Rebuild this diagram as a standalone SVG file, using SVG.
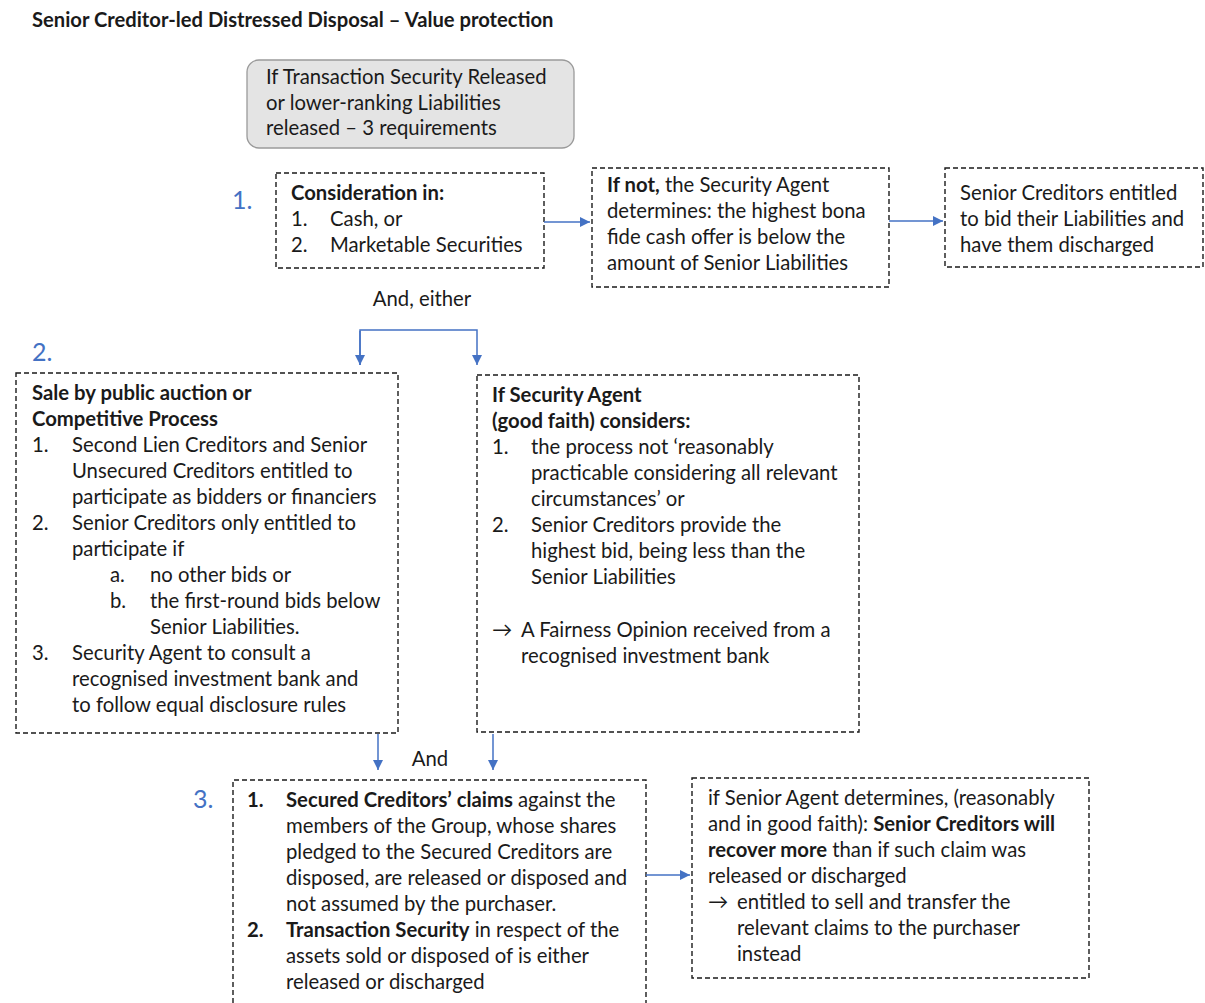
<svg xmlns="http://www.w3.org/2000/svg" width="1205" height="1003" viewBox="0 0 1205 1003">
  <defs>
    <marker id="arr" viewBox="0 0 10 10" refX="10" refY="5" markerWidth="10" markerHeight="10" markerUnits="userSpaceOnUse" orient="auto">
      <path d="M0,0 L10,5 L0,10 z" fill="#4472C4"/>
    </marker>
    <style>
      text { font-family: Lato, "Liberation Sans", sans-serif; font-size: 20.3px; fill: #1a1a1a; }
      .title { font-weight: bold; font-size: 20.2px; }
      .b { font-weight: bold; }
      .num { fill: #4472C4; font-size: 25px; }
      .box { fill: #ffffff; stroke: #1a1a1a; stroke-width: 1.4; stroke-dasharray: 5 3; }
      .gray { fill: #e4e4e4; stroke: #9a9a9a; stroke-width: 1.3; }
      .conn { fill: none; stroke: #4472C4; stroke-width: 1.5; }
    </style>
  </defs>

  <rect width="1205" height="1003" fill="#ffffff"/>

  <text class="title" x="32" y="27">Senior Creditor-led Distressed Disposal – Value protection</text>

  <!-- heading box -->
  <g id="requirements">
    <rect class="gray" x="247" y="60" width="327" height="88" rx="12"/>
    <text x="266" y="84">If Transaction Security Released</text>
    <text x="266" y="110">or lower-ranking Liabilities</text>
    <text x="266" y="135">released – 3 requirements</text>
  </g>

  <!-- step numbers -->
  <text class="num" x="232" y="209">1.</text>
  <text class="num" x="32" y="361">2.</text>
  <text class="num" x="193" y="808">3.</text>

  <!-- requirement 1 -->
  <g id="consideration">
    <rect class="box" x="276" y="173" width="268" height="95"/>
    <text class="b" x="291" y="200">Consideration in:</text>
    <text x="291" y="226">1.</text><text x="330" y="226">Cash, or</text>
    <text x="291" y="252">2.</text><text x="330" y="252">Marketable Securities</text>
  </g>

  <g id="if-not">
    <rect class="box" x="592" y="168" width="297" height="119"/>
    <text x="607" y="192"><tspan class="b">If not,</tspan> the Security Agent</text>
    <text x="607" y="218">determines: the highest bona</text>
    <text x="607" y="244">fide cash offer is below the</text>
    <text x="607" y="270">amount of Senior Liabilities</text>
  </g>

  <g id="bid-liabilities">
    <rect class="box" x="945" y="168" width="258" height="99"/>
    <text x="960" y="200">Senior Creditors entitled</text>
    <text x="960" y="226">to bid their Liabilities and</text>
    <text x="960" y="252">have them discharged</text>
  </g>

  <text x="422" y="306" text-anchor="middle">And, either</text>

  <!-- requirement 2 -->
  <g id="public-auction">
    <rect class="box" x="16" y="373" width="382" height="360"/>
    <text class="b" x="32" y="400">Sale by public auction or</text>
    <text class="b" x="32" y="426">Competitive Process</text>
    <text x="32" y="452">1.</text><text x="72" y="452">Second Lien Creditors and Senior</text>
    <text x="72" y="478">Unsecured Creditors entitled to</text>
    <text x="72" y="504">participate as bidders or financiers</text>
    <text x="32" y="530">2.</text><text x="72" y="530">Senior Creditors only entitled to</text>
    <text x="72" y="556">participate if</text>
    <text x="110" y="582">a.</text><text x="150" y="582">no other bids or</text>
    <text x="110" y="608">b.</text><text x="150" y="608">the first-round bids below</text>
    <text x="150" y="634">Senior Liabilities.</text>
    <text x="32" y="660">3.</text><text x="72" y="660">Security Agent to consult a</text>
    <text x="72" y="686">recognised investment bank and</text>
    <text x="72" y="712">to follow equal disclosure rules</text>
  </g>

  <g id="fairness-opinion">
    <rect class="box" x="477" y="375" width="382" height="357"/>
    <text class="b" x="492" y="402">If Security Agent</text>
    <text class="b" x="492" y="428">(good faith) considers:</text>
    <text x="492" y="454">1.</text><text x="531" y="454">the process not ‘reasonably</text>
    <text x="531" y="480">practicable considering all relevant</text>
    <text x="531" y="506">circumstances’ or</text>
    <text x="492" y="532">2.</text><text x="531" y="532">Senior Creditors provide the</text>
    <text x="531" y="558">highest bid, being less than the</text>
    <text x="531" y="584">Senior Liabilities</text>
    <text x="492" y="637">→</text><text x="521" y="637">A Fairness Opinion received from a</text>
    <text x="521" y="663">recognised investment bank</text>
  </g>

  <text x="430" y="766" text-anchor="middle">And</text>

  <!-- requirement 3 -->
  <g id="claims-released">
    <path class="box" d="M233,1003 V780 H646 V1003" fill="none"/>
    <text class="b" x="247" y="807">1.</text><text x="286" y="807"><tspan class="b">Secured Creditors’ claims</tspan> against the</text>
    <text x="286" y="833">members of the Group, whose shares</text>
    <text x="286" y="859">pledged to the Secured Creditors are</text>
    <text x="286" y="885">disposed, are released or disposed and</text>
    <text x="286" y="911">not assumed by the purchaser.</text>
    <text class="b" x="247" y="937">2.</text><text x="286" y="937"><tspan class="b">Transaction Security</tspan> in respect of the</text>
    <text x="286" y="963">assets sold or disposed of is either</text>
    <text x="286" y="989">released or discharged</text>
  </g>

  <g id="claims-transfer">
    <rect class="box" x="692" y="778" width="397" height="200"/>
    <text x="708" y="805">if Senior Agent determines, (reasonably</text>
    <text x="708" y="831">and in good faith): <tspan class="b">Senior Creditors will</tspan></text>
    <text x="708" y="857"><tspan class="b">recover more</tspan> than if such claim was</text>
    <text x="708" y="883">released or discharged</text>
    <text x="708" y="909">→</text><text x="737" y="909">entitled to sell and transfer the</text>
    <text x="737" y="935">relevant claims to the purchaser</text>
    <text x="737" y="961">instead</text>
  </g>

  <!-- connectors -->
  <g id="connectors">
    <line class="conn" x1="544" y1="222" x2="590" y2="222" marker-end="url(#arr)"/>
    <line class="conn" x1="889" y1="221" x2="943" y2="221" marker-end="url(#arr)"/>
    <path class="conn" d="M360,365 V330 H477 V365" marker-end="url(#arr)"/>
    <line class="conn" x1="360" y1="331" x2="360" y2="365" marker-end="url(#arr)"/>
    <line class="conn" x1="378" y1="734" x2="378" y2="770" marker-end="url(#arr)"/>
    <line class="conn" x1="493" y1="734" x2="493" y2="770" marker-end="url(#arr)"/>
    <line class="conn" x1="646" y1="875" x2="690" y2="875" marker-end="url(#arr)"/>
  </g>
</svg>
